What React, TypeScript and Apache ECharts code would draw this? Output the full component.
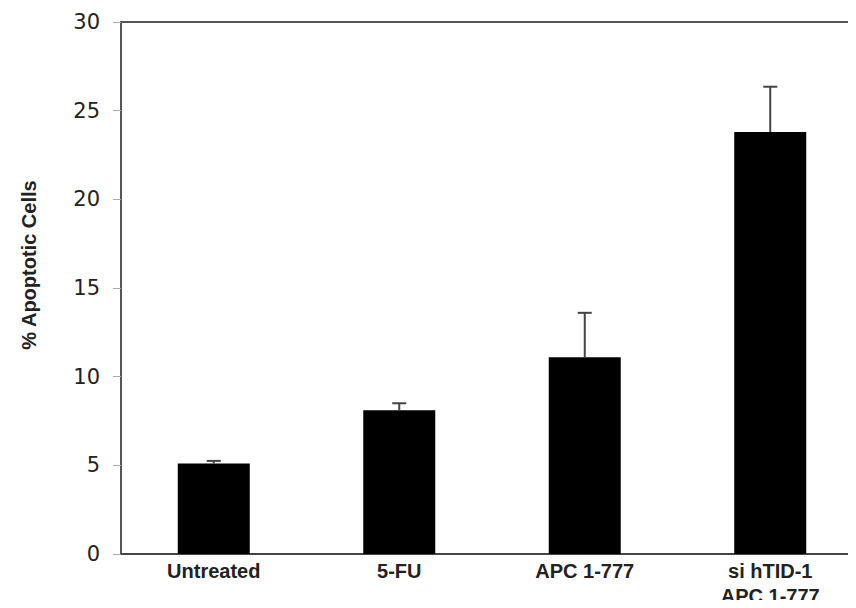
import React, { useEffect, useRef } from "react";
import * as echarts from "echarts";

const categories = ["Untreated", "5-FU", "APC 1-777", "si hTID-1\nAPC 1-777"];
const means = [5.1, 8.1, 11.1, 23.8];
const errors = [0.15, 0.4, 2.5, 2.55];
const yMin = 0;
const yMax = 30;
const yStep = 5;
const yTitle = "% Apoptotic Cells";

export default function App() {
  const ref = useRef<HTMLDivElement>(null);
  useEffect(() => {
    if (!ref.current) return;
    const chart = echarts.init(ref.current, null, { renderer: "svg" });
    chart.setOption({
      animation: false,
      backgroundColor: "#ffffff",
      grid: {
        left: 121,
        right: -7,
        top: 22,
        bottom: 54,
        outerBoundsMode: "none",
        containLabel: false,
        show: true,
        borderColor: "#555",
        borderWidth: 2,
        backgroundColor: "transparent",
      },
      graphic: [
        {
          type: "text",
          x: 29,
          y: 265,
          rotation: Math.PI / 2,
          style: {
            text: yTitle,
            font: "bold 20px 'Liberation Sans', Arial, sans-serif",
            fill: "#222",
            align: "center",
            verticalAlign: "middle",
          },
        },
      ],
      xAxis: {
        type: "category",
        data: categories,
        axisLine: { show: true, lineStyle: { color: "#444", width: 2 } },
        axisTick: { show: false },
        axisLabel: {
          color: "#222",
          fontFamily: "'Liberation Sans', Arial, sans-serif",
          fontWeight: "bold",
          fontSize: 20,
          lineHeight: 25,
          margin: 4,
        },
      },
      yAxis: {
        type: "value",
        min: yMin,
        max: yMax,
        interval: yStep,
        splitLine: { show: false },
        axisLine: { show: true, lineStyle: { color: "#555", width: 2 } },
        axisTick: { show: true, length: 8, lineStyle: { color: "#aaa", width: 1 } },
        axisLabel: {
          color: "#222",
          fontFamily: "'DejaVu Sans', Verdana, sans-serif",
          fontSize: 21,
          margin: 21,
        },
      },
      series: [
        {
          type: "bar",
          data: means,
          barWidth: 72,
          itemStyle: { color: "#000" },
        },
        {
          type: "custom",
          data: means.map((m, i) => [i, m, errors[i]]),
          z: 5,
          renderItem: (params: any, api: any) => {
            const i = api.value(0);
            const m = api.value(1);
            const e = api.value(2);
            const base = api.coord([i, m]);
            const top = api.coord([i, m + e]);
            return {
              type: "group",
              children: [
                {
                  type: "line",
                  shape: { x1: base[0], y1: base[1], x2: top[0], y2: top[1] },
                  style: { stroke: "#444", lineWidth: 2 },
                },
                {
                  type: "line",
                  shape: { x1: top[0] - 7, y1: top[1], x2: top[0] + 7, y2: top[1] },
                  style: { stroke: "#444", lineWidth: 2 },
                },
              ],
            };
          },
        },
      ],
    });
    return () => chart.dispose();
  }, []);
  return <div ref={ref} style={{ width: 856, height: 608, margin: -8 }} />;
}
